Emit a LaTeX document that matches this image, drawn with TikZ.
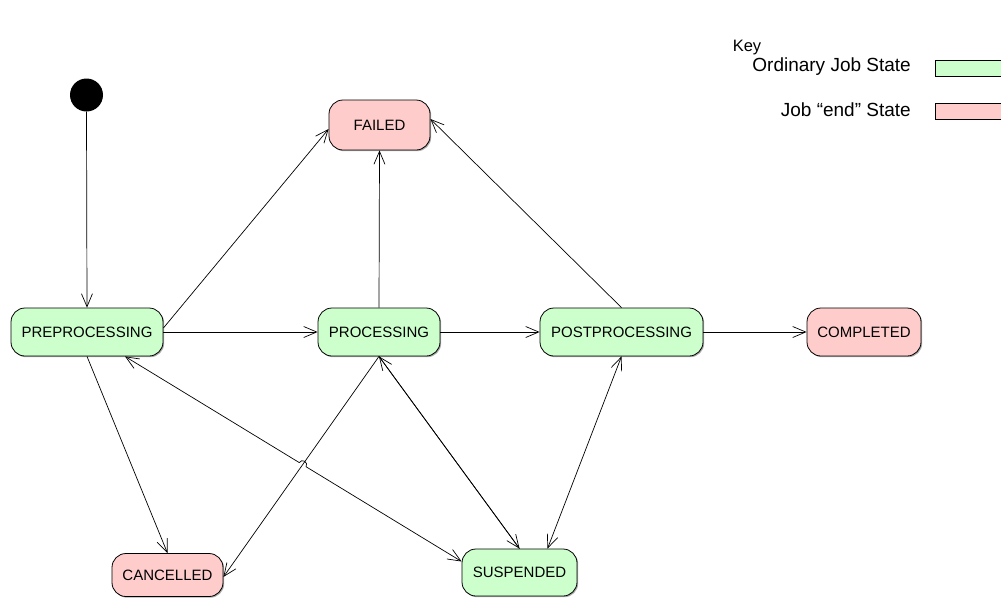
\documentclass[tikz,border=0pt]{standalone}
\usepackage{fontspec}
\setmainfont{Liberation Sans}
\usetikzlibrary{arrows.meta,calc,intersections,shadows}

\definecolor{jobgreen}{HTML}{CCFFCC}
\definecolor{jobpink}{HTML}{FFCCCC}

\begin{document}
\begin{tikzpicture}[x=1pt,y=1pt,
  state/.style={draw=black, line width=0.8pt, rounded corners=14pt,
    minimum height=48pt, inner sep=0pt, font=\fontsize{15}{18}\selectfont,
    drop shadow={shadow xshift=1.2pt, shadow yshift=-1.2pt, fill=black!55, opacity=0.6}},
  job/.style={state, fill=jobgreen},
  endjob/.style={state, fill=jobpink},
  tip/.tip={Straight Barb[length=13pt,width=11pt]},
  trans/.style={line width=0.7pt, -tip},
  both/.style={line width=0.7pt, tip-tip},
  keytext/.style={font=\fontsize{19}{22}\selectfont, inner sep=0pt},
  keybox/.style={draw=black, line width=0.8pt, minimum width=80pt, minimum height=16pt, inner sep=0pt, anchor=west}
]
\useasboundingbox (0,0) rectangle (1001,-598);
\clip (0,0) rectangle (1001,-598);

% initial pseudo-state
\node[circle, fill=black, minimum size=33pt, inner sep=0pt] (start) at (86.5,-95) {};

% job states
\node[endjob, minimum width=101pt, minimum height=50pt] (failed) at (379.5,-125) {FAILED};
\node[job, minimum width=152pt] (pre)  at (87,-332)    {PREPROCESSING};
\node[job, minimum width=122pt] (proc) at (379,-332)   {PROCESSING};
\node[job, minimum width=163pt] (post) at (621.5,-332) {POSTPROCESSING};
\node[endjob, minimum width=114pt] (comp) at (864,-332) {COMPLETED};
\node[endjob, minimum width=111pt, minimum height=43pt] (canc) at (167.5,-575) {CANCELLED};
\node[job, minimum width=115pt, minimum height=47pt] (susp) at (519.5,-572.5) {SUSPENDED};

% key
\node[keytext, font=\fontsize{16.5}{20}\selectfont] (keytitle) at (747,-48) {Key};
\node[keytext, anchor=east] (k1) at (911,-66.5) {Ordinary Job State};
\node[keytext, anchor=east] (k2) at (911,-110) {Job “end” State};
\node[keybox, fill=jobgreen] (k1box) at (935,-68.5) {};
\node[keybox, fill=jobpink]  (k2box) at (935,-111) {};

% transitions
\draw[trans] (start.south) -- (pre.north);
\draw[trans] ([yshift=4pt]pre.east) -- ([yshift=-4pt]failed.west);
\draw[trans] (pre.east) -- (proc.west);
\draw[trans] (proc.north) -- (failed.south);
\draw[trans] (post.north) -- ([yshift=6pt]failed.east);
\draw[trans] (proc.east) -- (post.west);
\draw[trans] (post.east) -- (comp.west);
\draw[trans] (pre.south) -- (canc.north);
\draw[trans, name path=pcline] (proc.south) -- ([yshift=-2pt]canc.east);
\draw[trans] (proc.south) -- (susp.north);
\draw[trans] (susp.north) -- (proc.south);
\draw[both] (post.south) -- ([xshift=28pt]susp.north);

% preprocessing <-> suspended, hopping over the processing -> cancelled line
\coordinate (ps1) at ([xshift=38pt]pre.south);
\coordinate (ps2) at ([yshift=11pt]susp.west);
\path[name path=psline] (ps1) -- (ps2);
\path[name intersections={of=pcline and psline, by=hop}];
\draw[both] let \p1=($(ps2)-(ps1)$), \n1={atan2(\y1,\x1)} in
  (ps1) -- ($(hop)!4pt!(ps1)$) arc[start angle=\n1+180, end angle=\n1, radius=4pt] -- (ps2);
\end{tikzpicture}
\end{document}
